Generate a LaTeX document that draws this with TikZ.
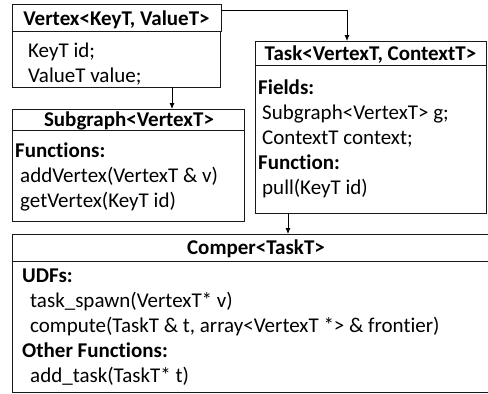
\documentclass[tikz,border=0pt]{standalone}
\usepackage{fontspec}
\setmainfont{Carlito}[Ligatures=NoCommon]
\usetikzlibrary{arrows.meta,calc}
\newcommand\fsz{\fontsize{21}{25}\selectfont}
\tikzset{
  box/.style={draw=black!90, line width=1pt, inner sep=0pt, outer sep=0pt, anchor=north west},
  txt/.style={anchor=base west, inner sep=0pt, font=\fsz},
  hdr/.style={anchor=base west, inner sep=0pt, font=\fsz\bfseries},
  ttl/.style={anchor=base, inner sep=0pt, font=\fsz\bfseries},
  arr/.style={draw=black, line width=0.8pt, -{Latex[length=6pt,width=5pt]}}
}
\begin{document}
\begin{tikzpicture}[x=1pt,y=-1pt]
\useasboundingbox (0,0) rectangle (488,394);
% Vertex
\node[box, minimum width=209pt, minimum height=27pt] (vt) at (12,4) {};
\node[box, minimum width=208pt, minimum height=56pt] (vb) at (12,31) {};
\node[ttl] (vtt) at (116.5,25) {Vertex<KeyT, ValueT>};
\node[txt] (v1) at (28,57) {KeyT id;};
\node[txt] (v2) at (28,82) {ValueT value;};
% Subgraph
\node[box, minimum width=232pt, minimum height=112pt] (sg) at (12,109) {};
\node[box, minimum width=232pt, minimum height=21pt] (sgt) at (12,109) {};
\node[ttl] (sgtt) at (129,126) {Subgraph<VertexT>};
\node[hdr] (s1) at (15,157) {Functions:};
\node[txt] (s2) at (20,182) {addVertex(VertexT \& v)};
\node[txt] (s3) at (20,207) {getVertex(KeyT id)};
% Task
\node[box, minimum width=231pt, minimum height=172pt] (tk) at (255,41) {};
\node[box, minimum width=231pt, minimum height=24pt] (tkt) at (255,41) {};
\node[ttl] (tktt) at (370.5,60) {Task<VertexT, ContextT>};
\node[hdr] (t1) at (258,94) {Fields:};
\node[txt] (t2) at (262,119) {Subgraph<VertexT> g;};
\node[txt] (t3) at (262,144) {ContextT context;};
\node[hdr] (t4) at (258,169) {Function:};
\node[txt] (t5) at (262,194) {pull(KeyT id)};
% Comper
\node[box, minimum width=476pt, minimum height=158pt] (cp) at (12,234) {};
\node[box, minimum width=476pt, minimum height=27pt] (cpt) at (12,234) {};
\node[ttl] (cptt) at (256,254) {Comper<TaskT>};
\node[hdr] (c1) at (22,282) {UDFs:};
\node[txt] (c2) at (30,307) {task\_spawn(VertexT* v)};
\node[txt] (c3) at (30,332) {compute(TaskT \& t, array<VertexT *> \& frontier)};
\node[hdr] (c4) at (22,357) {Other Functions:};
\node[txt] (c5) at (30,382) {add\_task(TaskT* t)};
% connectors
\coordinate (tin) at (347,41);
\coordinate (vout) at (221,10);
\draw[arr] (vout) -| (tin);
\coordinate (sgin) at (172,109);
\draw[arr] (vb.south -| sgin) -- (sgin);
\coordinate (cpin) at (288,234);
\draw[arr] (tk.south -| cpin) -- (cpin);
\end{tikzpicture}
\end{document}
